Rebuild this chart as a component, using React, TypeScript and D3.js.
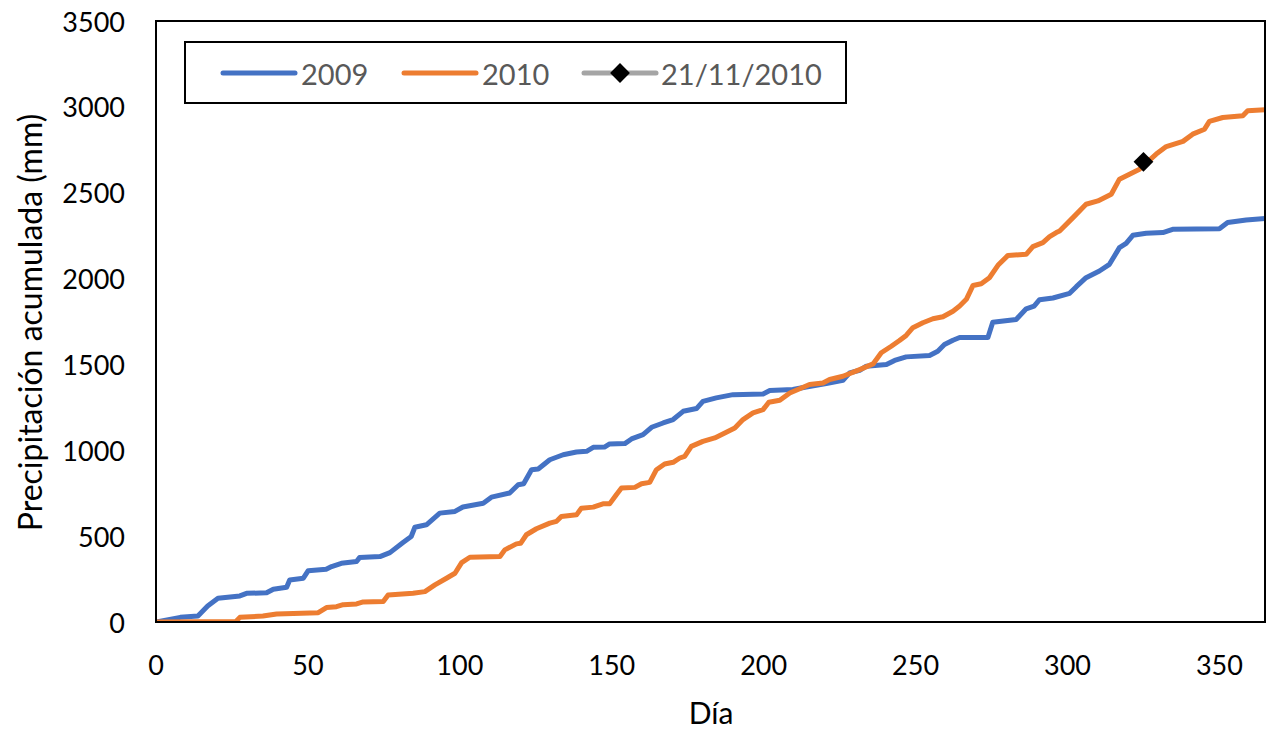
import React from "react";
import * as d3 from "d3";

const days2009 = [0, 8, 13.8, 17, 20.4, 27.6, 29.8, 36.4, 38.6, 43, 44, 48.5, 50.1, 56, 57.8, 61, 66, 67, 73.7, 77, 81.3, 84, 85.2, 89, 93.4, 98.4, 101, 107.7, 110.4, 116.4, 119.2, 121, 123.6, 125.8, 129.6, 134, 138.4, 141.7, 143.9, 147.6, 149.3, 154.3, 156.5, 160.3, 163.1, 166.9, 170.2, 173.5, 177.9, 180, 184.4, 189.9, 199.8, 202, 209.6, 214, 220.6, 226.1, 228.3, 231.6, 233.8, 240.4, 243.1, 246.9, 254.6, 257.3, 259.5, 262.3, 264.5, 273.8, 275.4, 283.1, 286.4, 289, 290.8, 295.2, 300.7, 302.9, 306.1, 310.5, 313.8, 317.1, 319.3, 321.5, 325.9, 331.4, 334.6, 350, 352.7, 358.8, 365];
const values2009 = [0, 27, 35, 93, 138, 152, 167, 170, 191, 202, 245, 255, 299, 307, 323, 342, 352, 375, 381, 404, 463, 498, 552, 566, 634, 644, 670, 692, 727, 751, 799, 805, 887, 891, 945, 974, 990, 994, 1017, 1019, 1037, 1039, 1066, 1091, 1134, 1159, 1179, 1227, 1243, 1285, 1305, 1324, 1328, 1348, 1354, 1369, 1389, 1408, 1451, 1466, 1490, 1499, 1523, 1544, 1552, 1577, 1616, 1641, 1657, 1657, 1746, 1762, 1824, 1840, 1877, 1887, 1914, 1953, 2005, 2044, 2083, 2180, 2205, 2252, 2264, 2268, 2287, 2290, 2326, 2341, 2350];

const days2010 = [0, 26.3, 27.6, 35.2, 39.7, 53.4, 56.1, 59.4, 61.6, 66, 68.2, 74.8, 76.4, 84.6, 88.5, 91.8, 95.6, 98.4, 100.6, 103.3, 113.2, 114.8, 118.6, 120, 121.9, 125.2, 129.6, 131.8, 133.4, 138.4, 140, 143.9, 147.1, 149.3, 151.5, 153.2, 157.6, 159.8, 162.5, 164.7, 167.4, 170.2, 172.4, 174, 176.2, 180, 183.9, 187.7, 190.5, 193.2, 196.5, 199.8, 201.7, 205.3, 208.6, 215.1, 219.5, 221.7, 226.1, 231.6, 236, 238.7, 242, 244.7, 246.9, 249.1, 252.4, 255.7, 259, 262.3, 264.5, 266.7, 268.9, 271.6, 274.3, 277.1, 280.4, 286.4, 288.6, 291.9, 294.1, 296.3, 297.4, 301.8, 306.1, 310, 314.4, 317.1, 320.4, 323.7, 329.2, 332.5, 338, 341.2, 345.1, 346.7, 351.1, 357.7, 359.3, 365];
const values2010 = [0, 3, 27, 35, 47, 54, 84, 89, 101, 105, 117, 119, 157, 167, 177, 216, 255, 284, 346, 377, 381, 420, 455, 458, 508, 543, 576, 586, 615, 624, 663, 669, 688, 688, 741, 780, 784, 805, 813, 887, 920, 930, 955, 965, 1023, 1052, 1072, 1105, 1130, 1179, 1218, 1237, 1280, 1291, 1334, 1383, 1392, 1412, 1431, 1470, 1503, 1568, 1606, 1639, 1669, 1714, 1743, 1766, 1778, 1810, 1840, 1879, 1960, 1970, 2005, 2077, 2135, 2141, 2186, 2209, 2244, 2268, 2277, 2355, 2433, 2452, 2491, 2579, 2608, 2637, 2725, 2769, 2799, 2841, 2870, 2915, 2938, 2948, 2977, 2983];

const markerDay = [325];
const markerValue = [2680];

const xTicks = [0, 50, 100, 150, 200, 250, 300, 350];
const yTicks = [0, 500, 1000, 1500, 2000, 2500, 3000, 3500];

const seriesNames = ["2009", "2010", "21/11/2010"];
const colors = ["#4472C4", "#ED7D31", "#A5A5A5"];

const W = 1267;
const H = 733;
const M = { left: 156, top: 21, right: 1265, bottom: 622 };
const FONT = "Lato, 'Open Sans', sans-serif";

export default function App() {
  const x = d3.scaleLinear().domain([0, 365]).range([M.left, M.right]);
  const y = d3.scaleLinear().domain([0, 3500]).range([M.bottom, M.top]);

  const line = d3
    .line<[number, number]>()
    .x((d) => x(d[0]))
    .y((d) => y(d[1]));

  const d2009 = days2009.map((d, i) => [d, values2009[i]] as [number, number]);
  const d2010 = days2010.map((d, i) => [d, values2010[i]] as [number, number]);

  const diamond = d3.symbol().type(d3.symbolDiamond2).size(250)() as string;

  const legendItems = [
    { lx: 223, tx: 301, name: seriesNames[0], color: colors[0], marker: false },
    { lx: 404, tx: 482, name: seriesNames[1], color: colors[1], marker: false },
    { lx: 584, tx: 661, name: seriesNames[2], color: colors[2], marker: true },
  ];

  return (
    <svg
      width={W}
      height={H}
      style={{ position: "absolute", left: 0, top: 0, background: "#fff" }}
      fontFamily={FONT}
    >
      <defs>
        <clipPath id="plot">
          <rect x={M.left} y={M.top - 10} width={M.right - M.left} height={M.bottom - M.top + 10} />
        </clipPath>
      </defs>
      <rect x={0} y={0} width={W} height={H} fill="#fff" />

      {/* y tick labels */}
      {yTicks.map((t) => (
        <text
          key={"y" + t}
          x={125}
          y={y(t)}
          textAnchor="end"
          dominantBaseline="central"
          fontSize={27}
          fill="#000"
        >
          {t}
        </text>
      ))}
      {/* x tick labels */}
      {xTicks.map((t) => (
        <text
          key={"x" + t}
          x={x(t)}
          y={664}
          textAnchor="middle"
          dominantBaseline="central"
          fontSize={27}
          fill="#000"
        >
          {t}
        </text>
      ))}

      {/* axis titles */}
      <text
        x={711}
        y={712}
        textAnchor="middle"
        dominantBaseline="central"
        fontSize={30}
        fill="#000"
      >
        Día
      </text>
      <text
        transform={`translate(29,${(M.top + M.bottom) / 2 + 1}) rotate(-90)`}
        textAnchor="middle"
        dominantBaseline="central"
        fontSize={32}
        fill="#000"
      >
        Precipitación acumulada (mm)
      </text>

      {/* series */}
      <g clipPath="url(#plot)">
        <path d={line(d2009) || ""} fill="none" stroke={colors[0]} strokeWidth={5} strokeLinejoin="round" strokeLinecap="round" />
        <path d={line(d2010) || ""} fill="none" stroke={colors[1]} strokeWidth={5} strokeLinejoin="round" strokeLinecap="round" />
      </g>

      {/* frame */}
      <rect
        x={M.left}
        y={M.top}
        width={M.right - M.left}
        height={M.bottom - M.top}
        fill="none"
        stroke="#000"
        strokeWidth={2}
      />

      {/* marker */}
      {markerDay.map((d, i) => (
        <path key={"m" + i} d={diamond} transform={`translate(${x(d)},${y(markerValue[i])})`} fill="#000" />
      ))}

      {/* legend */}
      <rect x={185} y={42} width={661} height={61} fill="#fff" stroke="#000" strokeWidth={2} />
      {legendItems.map((it) => (
        <g key={it.name}>
          <line x1={it.lx} x2={it.lx + 72} y1={73} y2={73} stroke={it.color} strokeWidth={5} strokeLinecap="round" />
          {it.marker && (
            <path d={diamond} transform={`translate(${it.lx + 36},73)`} fill="#000" />
          )}
          <text x={it.tx} y={73} dominantBaseline="central" fontSize={29} fill="#595959">
            {it.name}
          </text>
        </g>
      ))}
    </svg>
  );
}
